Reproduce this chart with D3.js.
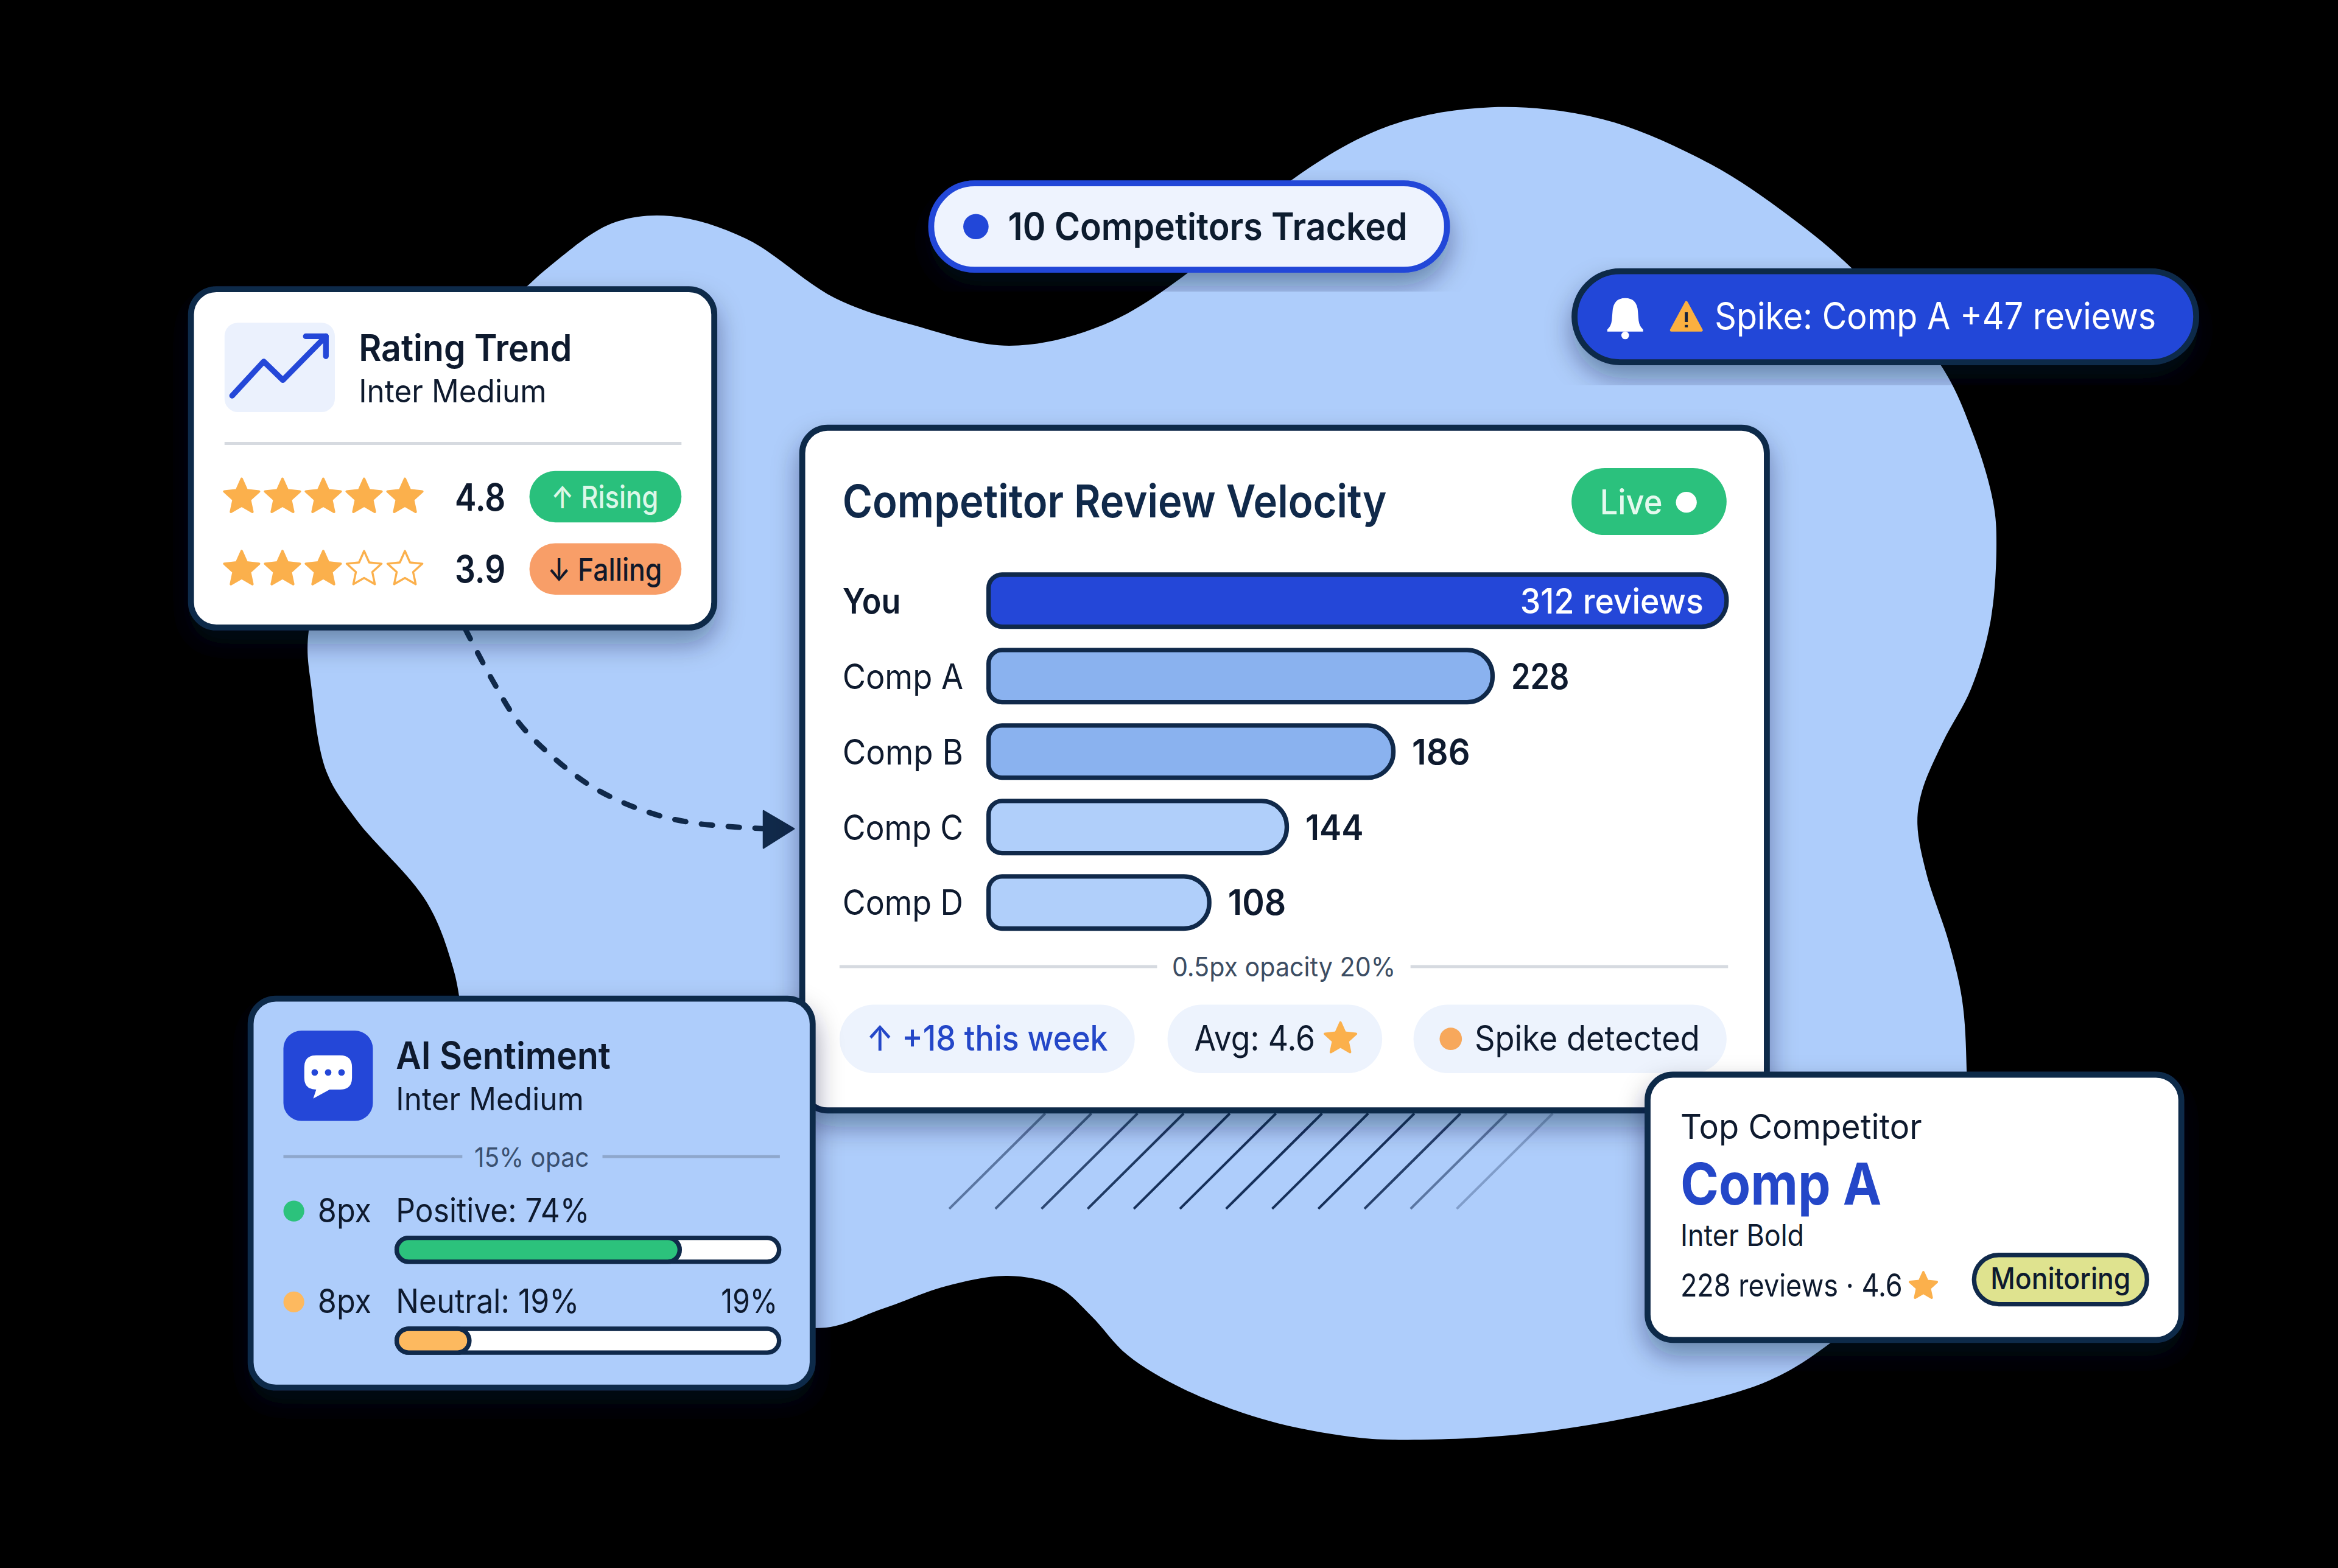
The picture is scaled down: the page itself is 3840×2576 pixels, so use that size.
<!DOCTYPE html>
<html>
<head>
<meta charset="utf-8">
<script src="https://cdn.jsdelivr.net/npm/d3@7"></script>
<style>
    html, body { margin: 0; padding: 0; background: #000; }
    svg { display: block; }
    text { font-family: Inter, "Noto Sans", sans-serif; }
</style>
</head>
<body>
<script>

// Data ////////////////////////////////////

const barCategories = ["You", "Comp A", "Comp B", "Comp C", "Comp D"];
const barValues = [312, 228, 186, 144, 108];
const barFills = ["#2447d8", "#8ab2ef", "#8ab2ef", "#b0cffa", "#b0cffa"];

const ratingValues = [4.8, 3.9];
const ratingFilled = [5, 3];
const ratingBadges = ["↑ Rising", "↓ Falling"];
const ratingBadgeWidths = [72, 77];
const ratingBadgeFills = ["#29c07c", "#f89e68"];
const ratingBadgeInks = ["#dcf7e8", "#10182a"];

const sentimentLabels = ["Positive: 74%", "Neutral: 19%"];
const sentimentLabelWidths = [130, 123];
const sentimentValues = [74, 19];
const sentimentFills = ["#2cc27c", "#fdb95f"];

const chipLabels = ["↑ +18 this week", "Avg: 4.6", "Spike detected"];

// outline of the background shape
const blobPoints = [
    [1000, 72], [1075, 80], [1147, 110], [1200, 145], [1242, 180], [1301, 244],
    [1324, 293], [1337, 338], [1339, 365], [1335, 417], [1322, 462], [1303, 498],
    [1289, 531], [1286, 553], [1292, 586], [1307, 632], [1316, 671], [1319, 718],
    [1318, 790], [1285, 850], [1229, 900], [1187, 926], [1117, 946], [1023, 962],
    [943, 966], [906, 964], [850, 953], [794, 932], [756, 909], [732, 883],
    [709, 863], [676, 856], [634, 863], [592, 878], [547, 891], [450, 860],
    [350, 790], [314, 700], [304, 650], [286, 605], [239, 550],
    [219, 518], [209, 463], [207, 423], [240, 320], [300, 235], [350, 195],
    [367, 180], [410, 150], [450, 145], [500, 160], [560, 200], [612, 218],
    [677, 232], [740, 218], [798, 182], [866, 121], [930, 85]
];

const trendPoints = [[155.6, 265.5], [176.8, 242.5], [189.6, 255], [218.5, 225.6]];
const arrowPath = [[312, 422], [330, 456], [348, 485], [372, 509], [399, 529], [432, 544], [464, 552], [513, 556]];
const hatchOpacity = [.55, .7, .85, .95, 1, 1, 1, 1, 1, .9, .55, .3];

// Palette //////////////////////////////////

const colors = {
    navy: "#10294a",
    ink: "#0e1a2e",
    blue: "#2447d8",
    blueText: "#2447c8",
    blob: "#aecdfb",
    star: "#fbb04c",
    chip: "#edf3fd",
    rule: "#d6dae0"
};

// Setup ////////////////////////////////////

const svg = d3.select("body").append("svg")
    .attr("width", 3840)
    .attr("height", 2576)
    .attr("viewBox", [0, 0, 1568, 1052]);

svg.append("rect")
    .attr("width", 1568)
    .attr("height", 1052)
    .attr("fill", "#000");

const shadow = svg.append("defs").append("filter")
    .attr("id", "shadow")
    .attr("x", "-15%")
    .attr("y", "-15%")
    .attr("width", "130%")
    .attr("height", "140%");

shadow.append("feDropShadow")
    .attr("dx", 0)
    .attr("dy", 9)
    .attr("stdDeviation", 9)
    .attr("flood-color", "#0b1c3a")
    .attr("flood-opacity", .4);

// Helpers //////////////////////////////////

// the reference type runs narrower than Inter, so each string gets its read width
function label(parent, str, x, y, size, weight, fill, width, anchor = "start") {
    return parent.append("text")
        .attr("x", x)
        .attr("y", y)
        .attr("font-size", size)
        .attr("font-weight", weight)
        .attr("fill", fill)
        .attr("text-anchor", anchor)
        .attr("textLength", width)
        .attr("lengthAdjust", "spacingAndGlyphs")
        .text(str);
}

function card(x, y, w, h, fill) {
    svg.append("rect")
        .attr("x", x)
        .attr("y", y)
        .attr("width", w)
        .attr("height", h)
        .attr("rx", 17)
        .attr("fill", fill)
        .attr("stroke", colors.navy)
        .attr("stroke-width", 4)
        .attr("filter", "url(#shadow)");
    return svg.append("g");
}

function pill(parent, x, y, w, h, fill, stroke, strokeWidth) {
    return parent.append("rect")
        .attr("x", x)
        .attr("y", y)
        .attr("width", w)
        .attr("height", h)
        .attr("rx", h / 2)
        .attr("fill", fill)
        .attr("stroke", stroke || "none")
        .attr("stroke-width", strokeWidth || 0);
}

const starShape = d3.lineRadial()
    .angle(d => d * Math.PI / 5)
    .radius((d, i) => i % 2 ? .47 : 1)
    .curve(d3.curveLinearClosed);

function star(parent, cx, cy, r, filled = true) {
    return parent.append("path")
        .attr("d", starShape(d3.range(10)))
        .attr("transform", `translate(${ cx }, ${ cy }) scale(${ r })`)
        .attr("fill", filled ? colors.star : "none")
        .attr("stroke", colors.star)
        .attr("stroke-linejoin", "round")
        .attr("stroke-width", (filled ? 1.6 : 1.4) / r);
}

// bars are squarer on the left, nearly full round on the right
function barPath(x0, x1, y0, y1) {
    const h = (y1 - y0) / 2;
    const p = d3.path(), rl = Math.min(9, h), rr = Math.min(17, h);
    p.moveTo(x0 + rl, y0);
    p.lineTo(x1 - rr, y0);
    p.arcTo(x1, y0, x1, y0 + rr, rr);
    p.lineTo(x1, y1 - rr);
    p.arcTo(x1, y1, x1 - rr, y1, rr);
    p.lineTo(x0 + rl, y1);
    p.arcTo(x0, y1, x0, y1 - rl, rl);
    p.lineTo(x0, y0 + rl);
    p.arcTo(x0, y0, x0 + rl, y0, rl);
    p.closePath();
    return p.toString();
}

// Background shape /////////////////////////

svg.append("path")
    .attr("d", d3.line().curve(d3.curveCatmullRomClosed.alpha(.5))(blobPoints))
    .attr("fill", colors.blob);

// Hatching under the main card

const hatchX = d3.scaleLinear().domain([0, 11]).range([636.6, 977]);

svg.append("g")
    .selectAll("line")
    .data(hatchOpacity)
    .join("line")
    .attr("x1", (d, i) => hatchX(i))
    .attr("y1", 811)
    .attr("x2", (d, i) => hatchX(i) + 64.4)
    .attr("y2", 747)
    .attr("stroke", "#16305a")
    .attr("stroke-width", 1.7)
    .attr("stroke-opacity", d => d);

// Dashed connector /////////////////////////

svg.append("path")
    .attr("d", d3.line().curve(d3.curveCatmullRom.alpha(.5))(arrowPath))
    .attr("fill", "none")
    .attr("stroke", colors.navy)
    .attr("stroke-width", 3.6)
    .attr("stroke-linecap", "round")
    .attr("stroke-dasharray", "7.5 10.5");

svg.append("path")
    .attr("d", "M512,544 L532.5,556 L512,569 Z")
    .attr("fill", colors.navy)
    .attr("stroke", colors.navy)
    .attr("stroke-linejoin", "round")
    .attr("stroke-width", 1);

// Main card ////////////////////////////////

const main = card(538, 287, 647, 458, "#fff");

label(main, "Competitor Review Velocity", 565, 347, 30.5, 600, colors.navy, 365);

pill(main, 1054, 314, 104, 45, "#2bc17d");
label(main, "Live", 1073, 345, 23, 500, "#e4f9ee", 42);
main.append("circle")
    .attr("cx", 1131)
    .attr("cy", 337)
    .attr("r", 7)
    .attr("fill", "#fff");

// the bars in the picture are not proportional to their labels, so the scale
// is anchored on the values it was read from
const xBar = d3.scaleLinear()
    .domain([0, 108, 144, 186, 228, 312])
    .range([663, 811, 863, 934.5, 1001, 1158]);

const yBar = d3.scalePoint()
    .domain(barCategories)
    .range([403, 605.5]);

const barH = 35;

const barRows = main.selectAll(".bar-row")
    .data(barCategories.map((name, i) => ({ name, value: barValues[i], fill: barFills[i] })))
    .join("g")
    .attr("class", "bar-row");

barRows.append("path")
    .attr("d", d => barPath(xBar(0), xBar(d.value), yBar(d.name) - barH / 2, yBar(d.name) + barH / 2))
    .attr("fill", d => d.fill)
    .attr("stroke", colors.navy)
    .attr("stroke-width", 3);

barRows.append("text")
    .attr("x", 565)
    .attr("y", d => yBar(d.name) + 8.5)
    .attr("font-size", 23.5)
    .attr("font-weight", (d, i) => i ? 400 : 600)
    .attr("fill", colors.ink)
    .attr("textLength", (d, i) => i ? 81 : 39)
    .attr("lengthAdjust", "spacingAndGlyphs")
    .text(d => d.name);

barRows.append("text")
    .attr("x", (d, i) => i ? xBar(d.value) + 12.5 : xBar(d.value) - 15.5)
    .attr("y", d => yBar(d.name) + 8.5)
    .attr("text-anchor", (d, i) => i ? "start" : "end")
    .attr("font-size", 23.5)
    .attr("font-weight", (d, i) => i ? 600 : 500)
    .attr("fill", (d, i) => i ? colors.ink : "#fff")
    .attr("textLength", (d, i) => i ? 39 : 123)
    .attr("lengthAdjust", "spacingAndGlyphs")
    .text((d, i) => i ? d.value : d.value + " reviews");

// divider with its note

main.selectAll(".rule")
    .data([[563, 776], [946, 1159]])
    .join("line")
    .attr("class", "rule")
    .attr("x1", d => d[0])
    .attr("x2", d => d[1])
    .attr("y1", 648.5)
    .attr("y2", 648.5)
    .attr("stroke", colors.rule)
    .attr("stroke-width", 2);

label(main, "0.5px opacity 20%", 861, 655, 18, 400, "#3c4d63", 150, "middle");

// chips

pill(main, 563, 674, 198, 46, colors.chip);
pill(main, 783, 674, 144, 46, colors.chip);
pill(main, 948, 674, 210, 46, colors.chip);

label(main, chipLabels[0], 581, 705, 23.5, 500, colors.blueText, 162);
label(main, chipLabels[1], 801, 705, 23.5, 400, colors.ink, 81);
star(main, 899, 697, 11);
main.append("circle")
    .attr("cx", 973)
    .attr("cy", 697)
    .attr("r", 7.5)
    .attr("fill", "#f7a85c");
label(main, chipLabels[2], 989, 705, 23.5, 400, colors.ink, 151);

// Rating card //////////////////////////////

const rating = card(128, 194, 351, 227, "#fff");

rating.append("rect")
    .attr("x", 150.5)
    .attr("y", 216.5)
    .attr("width", 74)
    .attr("height", 60)
    .attr("rx", 9)
    .attr("fill", "#ebf1fd");

rating.append("path")
    .attr("d", d3.line()(trendPoints))
    .attr("fill", "none")
    .attr("stroke", colors.blue)
    .attr("stroke-width", 3.8)
    .attr("stroke-linecap", "round")
    .attr("stroke-linejoin", "round");

rating.append("path")
    .attr("d", "M205,225.6 L218.5,225.6 L218.5,239")
    .attr("fill", "none")
    .attr("stroke", colors.blue)
    .attr("stroke-width", 3.8)
    .attr("stroke-linecap", "round")
    .attr("stroke-linejoin", "round");

label(rating, "Rating Trend", 240.5, 242, 24.5, 600, colors.ink, 143);
label(rating, "Inter Medium", 240.5, 270, 21, 400, colors.ink, 126);

rating.append("line")
    .attr("x1", 150.5)
    .attr("x2", 457)
    .attr("y1", 297.5)
    .attr("y2", 297.5)
    .attr("stroke", colors.rule)
    .attr("stroke-width", 2);

const yRating = d3.scalePoint().domain(ratingValues).range([333.5, 382]);
const xStar = d3.scalePoint().domain(d3.range(5)).range([162, 271.5]);

ratingValues.forEach((v, i) => {
    const y = yRating(v);
    d3.range(5).forEach(s => star(rating, xStar(s), y, 12.3, s < ratingFilled[i]));
    label(rating, v, 305, y + 9, 25, 600, colors.ink, 34);
    pill(rating, 355, y - 17.5, 102, 34.5, ratingBadgeFills[i]);
    label(rating, ratingBadges[i], 405.5, y + 7.5, 21, 500, ratingBadgeInks[i], ratingBadgeWidths[i], "middle");
});

// Sentiment card ///////////////////////////

const sentiment = card(168, 670, 377, 261, colors.blob);

sentiment.append("rect")
    .attr("x", 190)
    .attr("y", 691.5)
    .attr("width", 60)
    .attr("height", 60.5)
    .attr("rx", 12)
    .attr("fill", colors.blue);

sentiment.append("path")
    .attr("d", "M212,708 L228,708 Q236,708 236,716 L236,723 Q236,731 228,731 L221,731 L210,737 L212,731 Q204,731 204,723 L204,716 Q204,708 212,708 Z")
    .attr("fill", "#fff");

sentiment.selectAll(".bubble-dot")
    .data([211, 220, 229])
    .join("circle")
    .attr("class", "bubble-dot")
    .attr("cx", d => d)
    .attr("cy", 719.5)
    .attr("r", 2.2)
    .attr("fill", colors.blue);

label(sentiment, "AI Sentiment", 265.5, 717, 25, 600, colors.ink, 144);
label(sentiment, "Inter Medium", 265.5, 745, 21, 400, colors.ink, 126);

sentiment.selectAll(".rule")
    .data([[190, 310], [404, 523]])
    .join("line")
    .attr("class", "rule")
    .attr("x1", d => d[0])
    .attr("x2", d => d[1])
    .attr("y1", 776)
    .attr("y2", 776)
    .attr("stroke", "#8ea7cc")
    .attr("stroke-width", 2);

label(sentiment, "15% opac", 356.5, 783, 18, 400, "#3a5070", 77, "middle");

const xTrack = d3.scaleLinear().domain([0, 100]).range([266, 522.5]);
const yTrack = d3.scalePoint().domain(sentimentLabels).range([820, 881]);
const trackH = 16;

sentimentLabels.forEach((name, i) => {
    const y = yTrack(name);
    sentiment.append("circle")
        .attr("cx", 197)
        .attr("cy", y - 7.5)
        .attr("r", 7)
        .attr("fill", sentimentFills[i]);
    label(sentiment, "8px", 213, y, 22.5, 400, colors.ink, 36);
    label(sentiment, name, 265.5, y, 22.5, 400, colors.ink, sentimentLabelWidths[i]);
    pill(sentiment, xTrack(0), y + 10.5, xTrack(100) - xTrack(0), trackH, "#fff", colors.navy, 3);
    sentiment.append("path")
        .attr("d", barPath(xTrack(0), xTrack(sentimentValues[i]), y + 10.5, y + 10.5 + trackH))
        .attr("fill", sentimentFills[i])
        .attr("stroke", colors.navy)
        .attr("stroke-width", 3);
});

label(sentiment, sentimentValues[1] + "%", 521.5, yTrack(sentimentLabels[1]), 22.5, 400, colors.ink, 38, "end");

// Top competitor card //////////////////////

const top3 = card(1105, 721, 358, 178, "#fff");

label(top3, "Top Competitor", 1127, 764, 23, 400, colors.ink, 162);
label(top3, "Comp A", 1127, 808, 39, 700, colors.blueText, 135);
label(top3, "Inter Bold", 1127, 836, 20, 400, colors.ink, 83);
label(top3, "228 reviews · 4.6", 1127, 870, 21, 400, colors.ink, 149);
star(top3, 1290, 863, 9.5);

pill(top3, 1324, 842, 116, 33, "#dfe38f", colors.navy, 3);
label(top3, "Monitoring", 1382, 865, 20, 500, colors.ink, 94, "middle");

// Floating pills ///////////////////////////

const tracked = svg.append("g").attr("filter", "url(#shadow)");

pill(tracked, 624.5, 123, 346, 58, "#eef3fe", colors.blue, 4);
tracked.append("circle")
    .attr("cx", 654.5)
    .attr("cy", 152)
    .attr("r", 8.5)
    .attr("fill", colors.blue);
label(tracked, "10 Competitors Tracked", 676, 161, 25, 600, colors.ink, 268);

const spike = svg.append("g").attr("filter", "url(#shadow)");

pill(spike, 1056, 182, 417, 61, colors.blue, colors.navy, 4);

// bell
spike.append("path")
    .attr("d", "M1090,200 Q1098,200 1098.5,209 L1099,215 Q1099.5,219 1102,221 L1102,222.5 L1078,222.5 L1078,221 Q1080.5,219 1081,215 L1081.5,209 Q1082,200 1090,200 Z")
    .attr("fill", "#fff");
spike.append("circle")
    .attr("cx", 1090)
    .attr("cy", 225)
    .attr("r", 2.6)
    .attr("fill", "#fff");

// warning sign
spike.append("path")
    .attr("d", "M1131,203 L1141,221.5 L1121,221.5 Z")
    .attr("fill", "#fbb03f")
    .attr("stroke", "#fbb03f")
    .attr("stroke-linejoin", "round")
    .attr("stroke-width", 2);
spike.append("path")
    .attr("d", "M1131,209.5 L1131,216 M1131,218 L1131,219.6")
    .attr("stroke", "#14233c")
    .attr("stroke-width", 2);

label(spike, "Spike: Comp A +47 reviews", 1150, 221, 25, 400, "#fff", 296);

</script>
</body>
</html>
